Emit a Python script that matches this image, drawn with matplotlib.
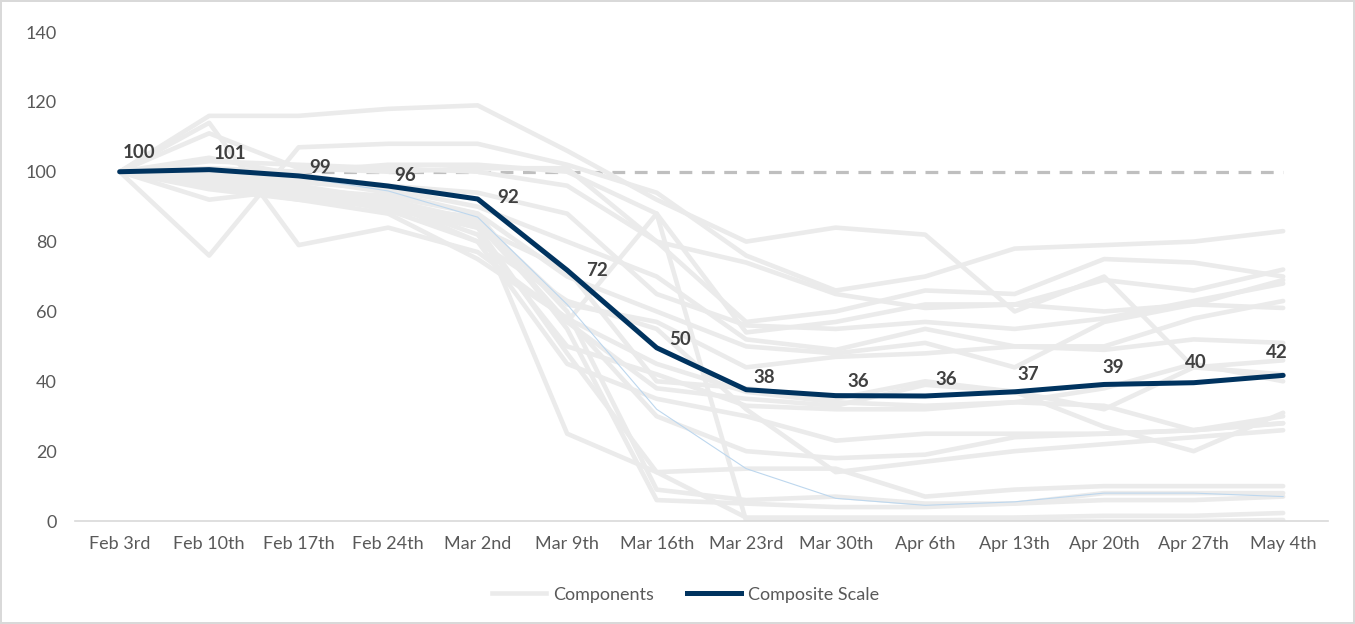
import matplotlib.pyplot as plt
from matplotlib.lines import Line2D

plt.rcParams['font.family'] = ['Lato', 'DejaVu Sans']

# Week labels
weeks = ['Feb 3rd', 'Feb 10th', 'Feb 17th', 'Feb 24th', 'Mar 2nd', 'Mar 9th', 'Mar 16th',
         'Mar 23rd', 'Mar 30th', 'Apr 6th', 'Apr 13th', 'Apr 20th', 'Apr 27th', 'May 4th']

# Composite scale (indexed to 100 at Feb 3rd)
composite = [100, 100.6, 98.8, 95.9, 92.2, 71.8, 49.6, 37.6, 35.9, 35.8, 37.0, 39.1, 39.6, 41.7]

# Individual components
components = [
    [100, 116, 116, 118, 119, 106, 92, 80, 84, 82, 60, 70, 44, 46],
    [100, 114, 79, 84, 77, 58, 45, 37, 34, 33, 34, 38, 45, 40],
    [100, 76, 107, 108, 108, 102, 94, 76, 66, 70, 78, 79, 80, 83],
    [100, 111, 101, 100, 101, 101, 80, 57, 60, 66, 65, 75, 74, 70],
    [100, 101, 100, 102, 102, 100, 88, 54, 57, 62, 62, 69, 66, 72],
    [100, 103, 102, 101, 100, 96, 80, 74, 65, 61, 62, 60, 62, 69],
    [100, 104, 99, 96, 94, 88, 65, 56, 55, 57, 55, 58, 63, 68],
    [100, 99, 97, 95, 90, 80, 70, 52, 49, 55, 50, 50, 58, 63],
    [100, 97, 95, 93, 88, 70, 60, 50, 48, 51, 44, 57, 62, 61],
    [100, 96, 93, 90, 86, 62, 57, 44, 47, 48, 50, 49, 52, 51],
    [100, 95, 92, 90, 84, 72, 40, 38, 35, 40, 37, 32, 44, 42],
    [100, 92, 95, 89, 85, 57, 38, 35, 33, 39, 37, 27, 20, 31],
    [100, 98, 96, 91, 82, 50, 42, 33, 32, 32, 34, 33, 26, 30],
    [100, 98, 94, 89, 80, 45, 35, 30, 23, 25, 25, 25, 26, 28],
    [100, 96, 92, 88, 75, 58, 30, 20, 18, 19, 24, 25, 26, 28],
    [100, 97, 94, 91, 80, 63, 55, 32, 14, 17, 20, 22, 24, 26],
    [100, 99, 95, 91, 86, 25, 14, 15, 15, 7, 9, 10, 10, 10],
    [100, 97, 94, 90, 87, 60, 9, 6, 7, 5, 5, 8, 8, 8],
    [100, 100, 98, 94, 88, 55, 6, 5, 4, 4, 5, 6, 6, 7],
    [100, 98, 95, 90, 84, 48, 14, 1, 1, 1, 1, 1.5, 1.5, 2.3],
    [100, 99, 96, 92, 86, 57, 88, 0, 0, 0, 0, 0, 0, 0.3],
]

# one component that shows as a thin blue line
highlight = [100, 100.2, 98.5, 94.5, 87, 62, 32, 15, 6.5, 4.5, 5.5, 8, 8, 7]

baseline = 100

# label offsets in pixels (dx, dy)
label_off = [(19, 19), (21, 16), (21, 8), (17, 11), (30, 1), (30, 0), (23, 8),
             (18, 12), (23, 14), (21, 16), (14, 17), (9, 17), (2, 20), (-6, 23)]

grey = '#EBEBEB'
navy = '#00335F'

fig = plt.figure(figsize=(13.55, 6.24), dpi=100)
fig.patch.set_edgecolor('#D9D9D9')
fig.patch.set_linewidth(1.5)
ax = fig.add_axes([0.0553, 0.165, 0.9247, 0.7837])

x = list(range(len(weeks)))

ax.plot(x, [baseline] * len(x), color='#BFBFBF', lw=2.3, ls=(0, (4, 3)), zorder=1)

for comp in components:
    ax.plot(x, comp, color=grey, lw=3.3, solid_capstyle='round', zorder=2)
ax.plot(x, highlight, color='#BDD7EE', lw=0.8, zorder=2.5)

ax.plot(x, composite, color=navy, lw=3.6, solid_capstyle='round', zorder=4)

for i, v in enumerate(composite):
    dx, dy = label_off[i]
    ax.annotate(f'{v:.0f}', (i, v), xytext=(dx * 0.72, dy * 0.72), textcoords='offset points',
                ha='center', va='center', fontsize=13.5, fontweight='bold', color='#404040', zorder=5)

ax.set_xlim(-0.5, len(weeks) - 0.5)
ax.set_ylim(0, 140)
ax.set_yticks(range(0, 141, 20))
ax.set_xticks(x)
ax.set_xticklabels(weeks)
ax.tick_params(axis='both', length=0, labelsize=13, colors='#595959')
ax.tick_params(axis='y', pad=13)
ax.tick_params(axis='x', pad=11)

for s in ['top', 'right', 'left']:
    ax.spines[s].set_visible(False)
ax.spines['bottom'].set_color('#D9D9D9')
ax.spines['bottom'].set_linewidth(1.2)

handles = [Line2D([0], [0], color=grey, lw=3.3),
           Line2D([0], [0], color=navy, lw=3.6)]
fig.legend(handles, ['Components', 'Composite Scale'], loc='center', bbox_to_anchor=(0.506, 0.047),
           ncol=2, frameon=False, fontsize=13, labelcolor='#595959',
           handlelength=3.0, handletextpad=0.4, columnspacing=1.8)

fig.savefig('out.png', dpi=100, edgecolor=fig.get_edgecolor())
